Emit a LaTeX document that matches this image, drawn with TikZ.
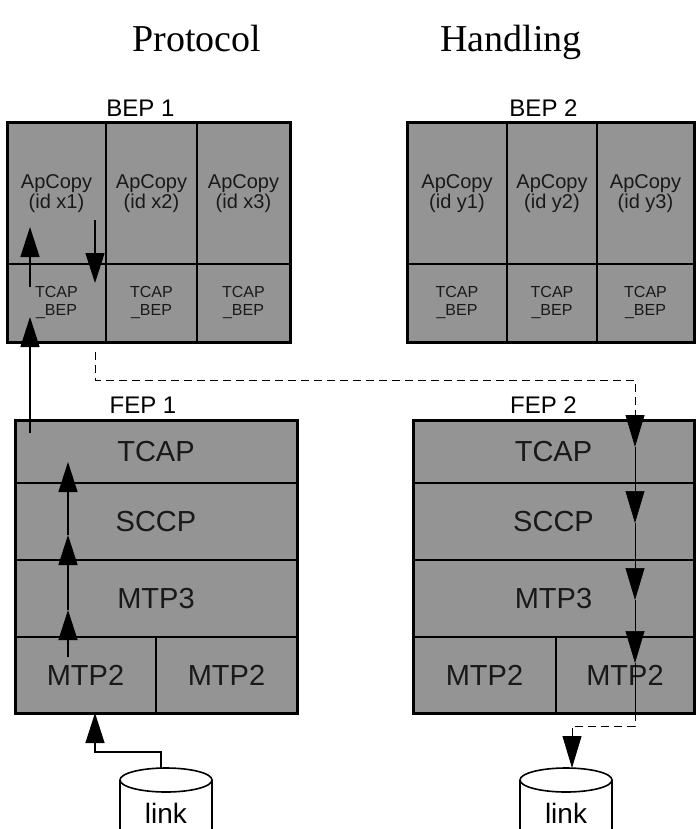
\documentclass[tikz,border=0pt]{standalone}
\usepackage{fontspec}
\setmainfont{Liberation Serif}
\setsansfont{Liberation Sans}
\usetikzlibrary{arrows.meta, positioning, fit}
\tikzstyle{cell} = [rectangle, draw=black, line width=1.6pt,
    fill=black!42, text=black!90, outer sep=0pt, inner sep=0pt, align=center]
\tikzstyle{apcell} = [cell, minimum height=141pt,
    font=\sffamily\fontsize{20}{20}\selectfont]
\tikzstyle{tbcell} = [cell, minimum height=78pt,
    font=\sffamily\fontsize{16}{18}\selectfont]
\tikzstyle{layer}  = [cell, font=\sffamily\fontsize{29}{30}\selectfont]
\tikzstyle{frame}  = [rectangle, draw=black, line width=3pt,
    inner sep=0pt, outer sep=0pt]
\tikzstyle{boxlabel} = [font=\sffamily\fontsize{24}{24}\selectfont, inner sep=0pt]
\tikzstyle{title}  = [font=\fontsize{38}{40}\selectfont, inner sep=0pt, anchor=base]
\tikzstyle{arrow}  = [-{Triangle[length=30pt, width=19pt]}, line width=1.4pt]
\tikzstyle{thinarrow} = [-{Triangle[length=32pt, width=19pt]}, line width=0.6pt]
\tikzstyle{dashline} = [line width=0.9pt, dash pattern=on 8pt off 5pt]
\tikzstyle{drum}   = [line width=1.6pt]
\begin{document}
\begin{tikzpicture}[x=1pt, y=-1pt]
  \useasboundingbox (0,0) rectangle (696,829);

  % Titles
  \node[title] (proto) at (197,52) {Protocol};
  \node[title] (hand)  at (511,52) {Handling};

  % BEP 1
  \node[apcell, anchor=north west, minimum width=99pt] (ap11) at (7,123) {ApCopy\\(id x1)};
  \node[apcell, right=0pt of ap11, minimum width=91pt] (ap12) {ApCopy\\(id x2)};
  \node[apcell, right=0pt of ap12, minimum width=93pt] (ap13) {ApCopy\\(id x3)};
  \node[tbcell, below=0pt of ap11, minimum width=99pt] (tb11) {TCAP\\\_BEP};
  \node[tbcell, below=0pt of ap12, minimum width=91pt] (tb12) {TCAP\\\_BEP};
  \node[tbcell, below=0pt of ap13, minimum width=93pt] (tb13) {TCAP\\\_BEP};
  \node[frame, fit=(ap11)(tb13)] (bep1) {};
  \node[boxlabel, above=6pt of bep1, xshift=-8pt] (lbep1) {BEP 1};

  % BEP 2
  \node[apcell, anchor=north west, minimum width=100pt] (ap21) at (407,123) {ApCopy\\(id y1)};
  \node[apcell, right=0pt of ap21, minimum width=90pt] (ap22) {ApCopy\\(id y2)};
  \node[apcell, right=0pt of ap22, minimum width=97pt] (ap23) {ApCopy\\(id y3)};
  \node[tbcell, below=0pt of ap21, minimum width=100pt] (tb21) {TCAP\\\_BEP};
  \node[tbcell, below=0pt of ap22, minimum width=90pt] (tb22) {TCAP\\\_BEP};
  \node[tbcell, below=0pt of ap23, minimum width=97pt] (tb23) {TCAP\\\_BEP};
  \node[frame, fit=(ap21)(tb23)] (bep2) {};
  \node[boxlabel, above=6pt of bep2, xshift=-7pt] (lbep2) {BEP 2};

  % FEP 1
  \node[layer, anchor=north west, minimum width=282pt, minimum height=63pt] (tcap1) at (15,420) {TCAP};
  \node[layer, below=0pt of tcap1, minimum width=282pt, minimum height=77pt] (sccp1) {SCCP};
  \node[layer, below=0pt of sccp1, minimum width=282pt, minimum height=77pt] (mtp31) {MTP3};
  \node[layer, anchor=north west, minimum width=141pt, minimum height=76pt] (mtpa1) at (mtp31.south west) {MTP2};
  \node[layer, right=0pt of mtpa1, minimum width=141pt, minimum height=76pt] (mtpb1) {MTP2};
  \node[frame, fit=(tcap1)(mtpb1)] (fep1) {};
  \node[boxlabel, above=6pt of fep1, xshift=-13pt] (lfep1) {FEP 1};

  % FEP 2
  \node[layer, anchor=north west, minimum width=281pt, minimum height=63pt] (tcap2) at (413,420) {TCAP};
  \node[layer, below=0pt of tcap2, minimum width=281pt, minimum height=77pt] (sccp2) {SCCP};
  \node[layer, below=0pt of sccp2, minimum width=281pt, minimum height=77pt] (mtp32) {MTP3};
  \node[layer, anchor=north west, minimum width=143pt, minimum height=76pt] (mtpa2) at (mtp32.south west) {MTP2};
  \node[layer, right=0pt of mtpa2, minimum width=138pt, minimum height=76pt] (mtpb2) {MTP2};
  \node[frame, fit=(tcap2)(mtpb2)] (fep2) {};
  \node[boxlabel, above=6pt of fep2, xshift=-10pt] (lfep2) {FEP 2};

  % Links
  \node[font=\sffamily\fontsize{28}{28}\selectfont, inner sep=0pt, anchor=base] (link1) at (166,823) {link};
  \node[font=\sffamily\fontsize{28}{28}\selectfont, inner sep=0pt, anchor=base] (link2) at (566,823) {link};
  \draw[drum] (166,780) ellipse [x radius=46, y radius=12];
  \draw[drum] (120,780) -- (120,840) (212,780) -- (212,840);
  \draw[drum] (566,780) ellipse [x radius=46, y radius=12];
  \draw[drum] (520,780) -- (520,840) (612,780) -- (612,840);

  % Path points
  \coordinate (f1a) at (30,433);  \coordinate (f1b) at (30,317);
  \coordinate (b1a) at (30,287);  \coordinate (b1b) at (30,227);
  \coordinate (b1c) at (95,220);  \coordinate (b1d) at (95,283);
  \coordinate (b1e) at (95,352);  \coordinate (b1f) at (95,380);
  \coordinate (f2a) at (635,380); \coordinate (f2b) at (635,447);
  \coordinate (f2c) at (635,523); \coordinate (f2d) at (635,600);
  \coordinate (f2e) at (635,663); \coordinate (f2f) at (635,726);
  \coordinate (f2g) at (572,726); \coordinate (lk2) at (572,768);
  \coordinate (f1c) at (68,657);  \coordinate (f1d) at (68,610);
  \coordinate (f1e) at (68,535);  \coordinate (f1f) at (68,462);
  \coordinate (lk1) at (161,768); \coordinate (f1g) at (161,752);
  \coordinate (f1h) at (95,752);

  % Incoming
  \draw[arrow] (lk1) -- (f1g) -- (f1h) -- (f1h |- mtpa1.south);
  \draw[arrow] (f1c) -- (f1d);
  \draw[arrow] (f1d) -- (f1e);
  \draw[arrow] (f1e) -- (f1f);
  \draw[arrow] (f1a) -- (f1b);
  \draw[arrow] (b1a) -- (b1b);

  % Outgoing
  \draw[arrow] (b1c) -- (b1d);
  \draw[dashline, -{Triangle[length=32pt, width=19pt]}] (b1e) -- (b1f) -- (f2a) -- (f2b);
  \draw[thinarrow] (f2b) -- (f2c);
  \draw[thinarrow] (f2c) -- (f2d);
  \draw[thinarrow] (f2d) -- (f2e);
  \draw[line width=0.6pt] (f2e) -- (f2e |- mtpb2.south);
  \draw[dashline, -{Triangle[length=32pt, width=19pt]}] (f2e |- mtpb2.south) -- (f2f) -- (f2g) -- (lk2);
\end{tikzpicture}
\end{document}
